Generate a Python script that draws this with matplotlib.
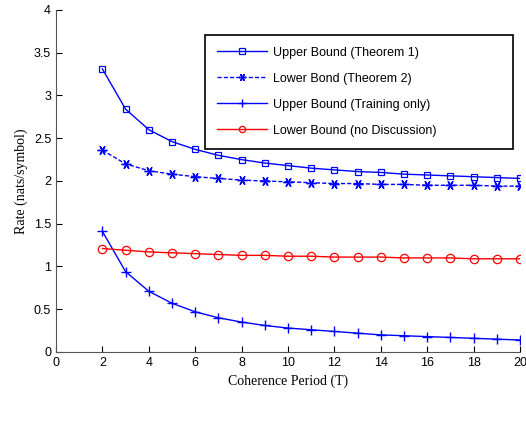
import numpy as np
import matplotlib
matplotlib.use("Agg")
from matplotlib import pyplot as plt

T = np.arange(2, 21)
upper_thm1 = [3.31, 2.84, 2.60, 2.46, 2.37, 2.30, 2.25, 2.21, 2.18, 2.15,
              2.13, 2.11, 2.10, 2.08, 2.07, 2.06, 2.05, 2.04, 2.03]
lower_thm2 = [2.36, 2.20, 2.12, 2.08, 2.05, 2.03, 2.01, 2.00, 1.99, 1.98,
              1.97, 1.97, 1.96, 1.96, 1.95, 1.95, 1.95, 1.94, 1.94]
upper_train = [1.41, 0.94, 0.71, 0.57, 0.47, 0.40, 0.35, 0.31, 0.28, 0.26,
               0.24, 0.22, 0.20, 0.19, 0.18, 0.17, 0.16, 0.15, 0.14]
lower_nodisc = [1.21, 1.19, 1.17, 1.16, 1.15, 1.14, 1.13, 1.13, 1.12, 1.12,
                1.11, 1.11, 1.11, 1.10, 1.10, 1.10, 1.09, 1.09, 1.09]

plt.rcParams['font.family'] = ['Liberation Sans', 'DejaVu Sans']

fig = plt.figure(figsize=(5.26, 4.25), dpi=100)
ax = fig.add_axes([0.1065, 0.1718, 0.882, 0.8047])

# matlab-style asterisk: 6 arms, one vertical
asterisk = (6, 2, 90)

ax.plot(T, upper_thm1, '-', marker='s', color='blue', lw=1, ms=5,
        mfc='none', mew=0.9, label='Upper Bound (Theorem 1)')
ax.plot(T, lower_thm2, '--', marker=asterisk, color='blue', lw=1, ms=7,
        mew=1, dashes=(3, 1.5), label='Lower Bond (Theorem 2)')
ax.plot(T, upper_train, '-', marker='+', color='blue', lw=1, ms=7, mew=1,
        label='Upper Bound (Training only)')
ax.plot(T, lower_nodisc, '-', marker='o', color='red', lw=1, ms=6,
        mfc='none', mew=0.9, label='Lower Bound (no Discussion)')

ax.set_xlim(0, 20)
ax.set_ylim(0, 4)
ax.set_xticks(np.arange(0, 21, 2))
ax.set_yticks(np.arange(0, 4.01, 0.5))
ax.set_yticklabels(['0', '0.5', '1', '1.5', '2', '2.5', '3', '3.5', '4'])
ax.tick_params(direction='in', labelsize=9, length=4)
for s in ['top', 'right']:
    ax.spines[s].set_visible(False)
for s in ['left', 'bottom']:
    ax.spines[s].set_color('#555555')

ax.set_xlabel('Coherence Period (T)', fontfamily='Liberation Serif', fontsize=10)
ax.set_ylabel('Rate (nats/symbol)', fontfamily='Liberation Serif', fontsize=10)

leg = ax.legend(loc='upper left', bbox_to_anchor=(0.321, 0.927, 0.664, 0.0),
                mode='expand', fontsize=9, markerscale=0.75,
                fancybox=False, edgecolor='black', framealpha=1,
                handlelength=4.0, handletextpad=0.5, labelspacing=1.12,
                borderpad=0.95, borderaxespad=0)
leg.get_frame().set_linewidth(1.2)

fig.savefig('out.png', dpi=100)
